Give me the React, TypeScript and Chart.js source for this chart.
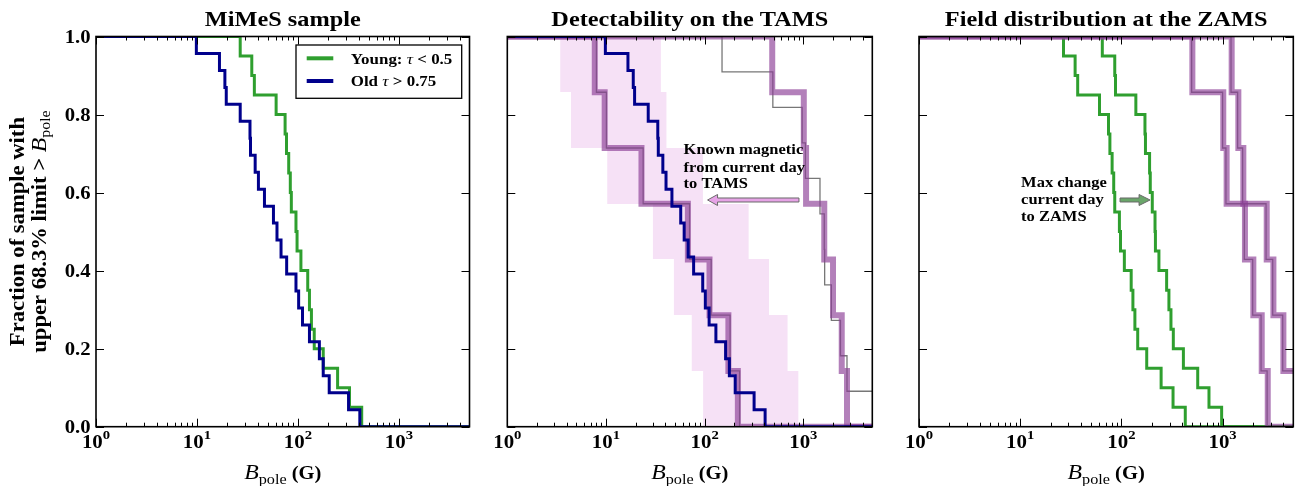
import React, { useEffect, useRef } from 'react';
import { Chart, registerables } from 'chart.js';

Chart.register(...registerables);

// ---------------- data ----------------
const X_MIN = 1;
const X_MAX = 5000;

const panelTitles = ['MiMeS sample', 'Detectability on the TAMS', 'Field distribution at the ZAMS'];
const xMajorTicks = [1, 10, 100, 1000];
const xMajorExponents = ['0', '1', '2', '3'];
const yMajorTicks = [0, 0.2, 0.4, 0.6, 0.8, 1.0];
const yTickLabels = ['0.0', '0.2', '0.4', '0.6', '0.8', '1.0'];

// upper 68.3% limits on B_pole (G)
const youngLimits = [26.8, 34.9, 37, 60.8, 74.6, 77, 81, 84, 86, 95.6, 98, 107, 125, 130, 136, 145, 178, 247, 324, 428];
const oldLimits = [9.86, 16.7, 18.9, 19.5, 26.8, 33.5, 33.9, 37.7, 40.6, 46.6, 57.2, 62, 68, 77.3, 95.6, 101.6, 111, 130, 163, 178, 204, 317, 410];
const youngZamsLimits = [64.8, 86, 87.5, 139, 171, 173, 190, 193, 202, 215, 217, 235, 280, 295, 309, 326, 410, 568, 734, 979];

// detectability thresholds (TAMS, thick) and current day (thin), with ranges
const tamsDetectLimits = [7.7, 9.7, 22.9, 67.6, 112, 174, 217];
const currentDetectLimits = [8.0, 10.1, 23.8, 70.3, 116.5, 181, 226];
const tamsDetectLow = [3.44, 4.42, 10.3, 29.9, 48.8, 74, 96.5];
const tamsDetectHigh = [36, 41, 96, 279, 449, 692, 890];

// known magnetic stars
const knownCurrentFields = [150, 491, 973, 1050, 1475, 1630, 1645, 1923, 2378, 2770, 8000];
const knownTamsFields = [484, 1011, 1066, 1630, 2000, 2450, 2770];
const knownPresentFields = [503, 1016, 1097, 1664, 2014, 2437, 2795];
const knownPresentEdge = [495, 1001, 1080, 1640, 1985, 2400, 2755];
const knownZamsFields = [1230, 1432, 1604, 2730, 3180, 3990, 6000];
const knownZamsEdge = [1212, 1410, 1580, 2690, 3130, 3930, 6000];

const legendYoung = ['Young: ', '\u03c4', ' < 0.5'];
const legendOld = ['Old ', '\u03c4', ' > 0.75'];
const noteTams = ['Known magnetic', 'from current day', 'to TAMS'];
const noteZams = ['Max change', 'current day', 'to ZAMS'];

// ---------------- style ----------------
const SERIF = "'Liberation Serif', 'Times New Roman', serif";
const STRETCH = 1.13;
const GREEN = '#2f9f2f';
const BLUE = '#00008c';
const PURPLE = 'rgba(140, 62, 150, 0.66)';
const GRAY = '#777777';
const BAND = '#f6e1f6';
const H = 486;
const PAD_TOP = 36.5;
const PAD_BOTTOM = 486 - 426.7;

function survival(values: number[]) {
  const sorted = [...values].sort((a, b) => a - b);
  const n = sorted.length;
  const pts: { x: number; y: number }[] = [{ x: X_MIN, y: 1 }];
  sorted.forEach((v, i) => pts.push({ x: v, y: (n - i - 1) / n }));
  pts.push({ x: Math.max(X_MAX * 1.5, sorted[n - 1] * 1.5), y: 0 });
  return pts;
}

function stepLine(values: number[], color: string, width: number) {
  return {
    data: survival(values),
    borderColor: color,
    backgroundColor: color,
    borderWidth: width,
    showLine: true,
    stepped: 'before',
    pointRadius: 0,
    pointHoverRadius: 0,
    fill: false,
    clip: 0,
    borderCapStyle: 'butt',
    borderJoinStyle: 'miter',
  };
}

type Seg = { text: string; font: string; dy?: number };

function drawSegs(
  ctx: CanvasRenderingContext2D,
  segs: Seg[],
  x: number,
  y: number,
  align: 'left' | 'center' | 'right',
  stretch = STRETCH,
  rotate = 0
) {
  ctx.save();
  ctx.translate(x, y);
  if (rotate) ctx.rotate(rotate);
  ctx.scale(stretch, 1);
  let w = 0;
  for (const s of segs) {
    ctx.font = s.font;
    w += ctx.measureText(s.text).width;
  }
  let cx = align === 'left' ? 0 : align === 'center' ? -w / 2 : -w;
  ctx.textAlign = 'left';
  ctx.textBaseline = 'alphabetic';
  ctx.fillStyle = '#000';
  for (const s of segs) {
    ctx.font = s.font;
    ctx.fillText(s.text, cx, s.dy || 0);
    cx += ctx.measureText(s.text).width;
  }
  ctx.restore();
}

interface PanelSpec {
  key: string;
  left: number;
  width: number;
  padLeft: number;
  padRight: number;
  title: string;
  yLabels: boolean;
  legend: boolean;
  datasets: any[];
  bands?: { low: number[]; high: number[] };
  arrow?: { from: number; to: number; y: number; fill: string; head: number };
  note?: { x: number; ys: number[]; lines: string[] };
}

function decor(spec: PanelSpec) {
  return {
    id: 'decor_' + spec.key,
    beforeDatasetsDraw(chart: any) {
      if (!spec.bands) return;
      const { ctx, chartArea: a } = chart;
      const xs = chart.scales.x;
      const ys = chart.scales.y;
      ctx.save();
      ctx.beginPath();
      ctx.rect(a.left, a.top, a.right - a.left, a.bottom - a.top);
      ctx.clip();
      ctx.fillStyle = BAND;
      const n = spec.bands.low.length;
      for (let i = 0; i < n; i++) {
        const x0 = xs.getPixelForValue(spec.bands.low[i]);
        const x1 = xs.getPixelForValue(spec.bands.high[i]);
        const y0 = Math.round(ys.getPixelForValue((n - i) / n));
        const y1 = Math.round(ys.getPixelForValue((n - i - 1) / n));
        ctx.fillRect(x0, y0, x1 - x0, y1 - y0);
      }
      ctx.restore();
    },
    afterDatasetsDraw(chart: any) {
      const { ctx } = chart;
      const xs = chart.scales.x;
      const ys = chart.scales.y;
      if (spec.arrow) {
        const ar = spec.arrow;
        const tx = xs.getPixelForValue(ar.from);
        const hx = xs.getPixelForValue(ar.to);
        const py = ys.getPixelForValue(ar.y);
        const dir = hx > tx ? 1 : -1;
        const base = hx - dir * ar.head;
        const sw = 2;
        const hw = 5.5;
        ctx.save();
        ctx.beginPath();
        ctx.moveTo(tx, py - sw);
        ctx.lineTo(base, py - sw);
        ctx.lineTo(base, py - hw);
        ctx.lineTo(hx, py);
        ctx.lineTo(base, py + hw);
        ctx.lineTo(base, py + sw);
        ctx.lineTo(tx, py + sw);
        ctx.closePath();
        ctx.fillStyle = ar.fill;
        ctx.fill();
        ctx.strokeStyle = '#6a6a6a';
        ctx.lineWidth = 1;
        ctx.lineJoin = 'miter';
        ctx.stroke();
        ctx.restore();
      }
      if (spec.note) {
        const nx = xs.getPixelForValue(spec.note.x);
        spec.note.lines.forEach((line, i) => {
          drawSegs(ctx, [{ text: line, font: `bold 15px ${SERIF}` }], nx, ys.getPixelForValue(spec.note!.ys[i]), 'left', 1.1);
        });
      }
    },
    afterDraw(chart: any) {
      const { ctx, chartArea: a } = chart;
      const xs = chart.scales.x;
      const ys = chart.scales.y;
      ctx.save();
      // ticks
      ctx.strokeStyle = '#000';
      ctx.lineWidth = 1;
      ctx.beginPath();
      for (let d = 0; d < xMajorTicks.length; d++) {
        const dec = xMajorTicks[d];
        const px = Math.round(xs.getPixelForValue(dec)) + 0.5;
        ctx.moveTo(px, a.bottom);
        ctx.lineTo(px, a.bottom - 8);
        ctx.moveTo(px, a.top);
        ctx.lineTo(px, a.top + 8);
        for (let k = 2; k <= 9; k++) {
          const v = k * dec;
          if (v >= X_MAX) break;
          const mx = Math.round(xs.getPixelForValue(v)) + 0.5;
          ctx.moveTo(mx, a.bottom);
          ctx.lineTo(mx, a.bottom - 4);
          ctx.moveTo(mx, a.top);
          ctx.lineTo(mx, a.top + 4);
        }
      }
      for (const v of yMajorTicks) {
        const py = Math.round(ys.getPixelForValue(v)) + 0.5;
        ctx.moveTo(a.left, py);
        ctx.lineTo(a.left + 8, py);
        ctx.moveTo(a.right, py);
        ctx.lineTo(a.right - 8, py);
      }
      ctx.stroke();
      // frame
      ctx.lineWidth = 1.6;
      ctx.strokeRect(a.left, a.top, a.right - a.left, a.bottom - a.top);
      ctx.restore();

      const cx = (a.left + a.right) / 2;
      // title
      drawSegs(ctx, [{ text: spec.title, font: `bold 21.5px ${SERIF}` }], cx, 26, 'center');
      // x tick labels
      xMajorTicks.forEach((v, i) => {
        const px = xs.getPixelForValue(v);
        drawSegs(
          ctx,
          [
            { text: '10', font: `bold 18.5px ${SERIF}` },
            { text: xMajorExponents[i], font: `bold 13px ${SERIF}`, dy: -9 },
          ],
          px,
          447.5,
          'center'
        );
      });
      // x axis title
      drawSegs(
        ctx,
        [
          { text: 'B', font: `italic 22px ${SERIF}` },
          { text: 'pole', font: `15px ${SERIF}`, dy: 5 },
          { text: ' (G)', font: `bold 19px ${SERIF}` },
        ],
        cx,
        478.5,
        'center',
        1.08
      );
      if (spec.yLabels) {
        yMajorTicks.forEach((v, i) => {
          const py = ys.getPixelForValue(v);
          drawSegs(ctx, [{ text: yTickLabels[i], font: `bold 18px ${SERIF}` }], a.left - 5.5, py + 6, 'right', 1.15);
        });
        const cy = (a.top + a.bottom) / 2;
        drawSegs(ctx, [{ text: 'Fraction of sample with', font: `bold 20px ${SERIF}` }], 24, cy, 'center', STRETCH, -Math.PI / 2);
        drawSegs(
          ctx,
          [
            { text: 'upper 68.3% limit > ', font: `bold 20px ${SERIF}` },
            { text: 'B', font: `italic 21px ${SERIF}` },
            { text: 'pole', font: `14px ${SERIF}`, dy: 4 },
          ],
          45.5,
          cy,
          'center',
          STRETCH,
          -Math.PI / 2
        );
      }
      if (spec.legend) {
        const bx = a.right - 173.5;
        const by = a.top + 8.5;
        const bw = 165.7;
        const bh = 53.3;
        ctx.save();
        ctx.fillStyle = '#fff';
        ctx.fillRect(bx, by, bw, bh);
        ctx.strokeStyle = '#000';
        ctx.lineWidth = 1.3;
        ctx.strokeRect(bx, by, bw, bh);
        ctx.lineWidth = 4;
        ctx.strokeStyle = GREEN;
        ctx.beginPath();
        ctx.moveTo(bx + 10.7, by + 13.3);
        ctx.lineTo(bx + 37.3, by + 13.3);
        ctx.stroke();
        ctx.strokeStyle = BLUE;
        ctx.beginPath();
        ctx.moveTo(bx + 10.7, by + 36);
        ctx.lineTo(bx + 37.3, by + 36);
        ctx.stroke();
        ctx.restore();
        const rows = [legendYoung, legendOld];
        rows.forEach((r, i) => {
          drawSegs(
            ctx,
            [
              { text: r[0], font: `bold 15px ${SERIF}` },
              { text: r[1], font: `italic 15.5px ${SERIF}` },
              { text: r[2], font: `bold 15px ${SERIF}` },
            ],
            bx + 54.7,
            by + 18.5 + i * 22.8,
            'left'
          );
        });
      }
    },
  };
}

function ordered(list: any[]) {
  return list.map((d, i) => ({ ...d, order: list.length - i }));
}

const specs: PanelSpec[] = [
  {
    key: 'a',
    left: 0,
    width: 490,
    padLeft: 96,
    padRight: 20.5,
    title: panelTitles[0],
    yLabels: true,
    legend: true,
    datasets: ordered([stepLine(youngLimits, GREEN, 3), stepLine(oldLimits, BLUE, 3)]),
  },
  {
    key: 'b',
    left: 490,
    width: 410,
    padLeft: 17.3,
    padRight: 27.7,
    title: panelTitles[1],
    yLabels: false,
    legend: false,
    datasets: ordered([
      stepLine(currentDetectLimits, GRAY, 1.3),
      stepLine(tamsDetectLimits, PURPLE, 6),
      stepLine(knownCurrentFields, GRAY, 1.3),
      stepLine(knownTamsFields, PURPLE, 6),
      stepLine(oldLimits, BLUE, 3),
    ]),
    bands: { low: tamsDetectLow, high: tamsDetectHigh },
    arrow: { from: 903, to: 107, y: 0.581, fill: '#e6a3e6', head: 10 },
    note: { x: 61.2, ys: [0.699, 0.654, 0.611], lines: noteTams },
  },
  {
    key: 'c',
    left: 900,
    width: 398,
    padLeft: 19,
    padRight: 4.7,
    title: panelTitles[2],
    yLabels: false,
    legend: false,
    datasets: ordered([
      stepLine(youngLimits, GREEN, 3),
      stepLine(youngZamsLimits, GREEN, 3),
      stepLine(knownPresentEdge, GRAY, 1.3),
      stepLine(knownZamsEdge, GRAY, 1.3),
      stepLine(knownPresentFields, PURPLE, 6),
      stepLine(knownZamsFields, PURPLE, 6),
    ]),
    arrow: { from: 97, to: 192, y: 0.581, fill: '#6aa66a', head: 11 },
    note: { x: 10.2, ys: [0.614, 0.571, 0.528], lines: noteZams },
  },
];

function Panel({ spec }: { spec: PanelSpec }) {
  const ref = useRef<HTMLCanvasElement>(null);
  useEffect(() => {
    const canvas = ref.current;
    if (!canvas) return;
    const chart = new Chart(canvas, {
      type: 'scatter',
      data: { datasets: spec.datasets },
      options: {
        animation: false,
        responsive: false,
        maintainAspectRatio: false,
        devicePixelRatio: 1,
        events: [],
        layout: { padding: { left: spec.padLeft, right: spec.padRight, top: PAD_TOP, bottom: PAD_BOTTOM } },
        scales: {
          x: { type: 'logarithmic', min: X_MIN, max: X_MAX, display: false },
          y: { type: 'linear', min: 0, max: 1, display: false },
        },
        plugins: { legend: { display: false }, tooltip: { enabled: false } },
      },
      plugins: [decor(spec)],
    } as any);
    return () => chart.destroy();
  }, [spec]);
  return (
    <canvas
      ref={ref}
      width={spec.width}
      height={H}
      style={{ position: 'absolute', left: spec.left, top: 0, width: spec.width, height: H }}
    />
  );
}

export default function App() {
  return (
    <div style={{ position: 'absolute', left: 0, top: 0, width: 1298, height: H, background: '#fff', overflow: 'hidden' }}>
      {specs.map((s) => (
        <Panel key={s.key} spec={s} />
      ))}
    </div>
  );
}
